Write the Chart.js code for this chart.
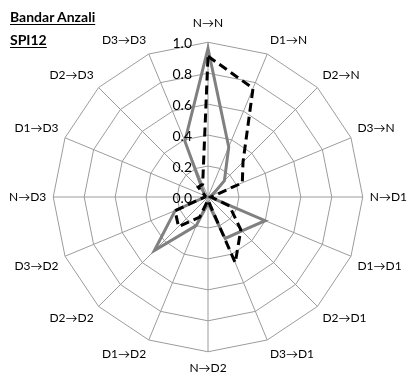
<!DOCTYPE html>
<html>
<head>
<meta charset="utf-8">
<script src="https://cdn.jsdelivr.net/npm/chart.js@4/dist/chart.umd.min.js"></script>
<style>
  html, body { margin: 0; padding: 0; background: #fff; }
  #wrap { position: relative; width: 408px; height: 378px; }
  #c { position: absolute; left: 0; top: 0; }
  .ttl { position: absolute; left: 10px; font: bold 14px Lato, "Liberation Sans", sans-serif;
         color: #000; text-decoration: underline; text-underline-offset: 2px; white-space: nowrap; }
</style>
</head>
<body>
<div id="wrap">
  <canvas id="c" width="408" height="378"></canvas>
  <div class="ttl" style="top:8px">Bandar Anzali</div>
  <div class="ttl" style="top:31px">SPI12</div>
</div>
<script>
// Transition categories, clockwise from the top
const categories = ['N→N','D1→N','D2→N','D3→N','N→D1','D1→D1','D2→D1','D3→D1',
                    'N→D2','D1→D2','D2→D2','D3→D2','N→D3','D1→D3','D2→D3','D3→D3'];
// Dashed black series
const seriesDashed = [0.91, 0.76, 0.32, 0.24, 0.02, 0.15, 0.30, 0.46,
                      0.02, 0.14, 0.27, 0.23, 0.02, 0.02, 0.09, 0.09];
// Solid grey series
const seriesSolid  = [0.96, 0.35, 0.15, 0.03, 0.01, 0.40, 0.31, 0.29,
                      0.04, 0.20, 0.49, 0.23, 0.02, 0.02, 0.04, 0.39];
// Radial tick labels
const tickLabels = ['0.0','0.2','0.4','0.6','0.8','1.0'];
const tickValues = tickLabels.map(Number);

const FONT = 'Lato, "DejaVu Sans", sans-serif';

// Radial tick labels, right-aligned just left of the vertical axis
const tickLabelPlugin = {
  id: 'tickLabelsLeft',
  afterDatasetsDraw(chart) {
    const s = chart.scales.r;
    const ctx = chart.ctx;
    ctx.save();
    ctx.font = '14px ' + FONT;
    ctx.fillStyle = '#000';
    ctx.textAlign = 'right';
    ctx.textBaseline = 'middle';
    tickValues.forEach((v, i) => {
      const d = s.getDistanceFromCenterForValue(v);
      ctx.fillText(tickLabels[i], s.xCenter - 16, s.yCenter - d + 1);
    });
    ctx.restore();
  }
};

new Chart(document.getElementById('c'), {
  type: 'radar',
  data: {
    labels: categories,
    datasets: [
      { data: seriesDashed, borderColor: '#000', borderWidth: 3, borderDash: [9, 5],
        fill: false, pointRadius: 0, tension: 0 },
      { data: seriesSolid, borderColor: '#808080', borderWidth: 3,
        fill: false, pointRadius: 0, tension: 0 }
    ]
  },
  options: {
    responsive: false,
    animation: false,
    devicePixelRatio: 1,
    layout: { padding: { top: 14, bottom: 0, left: 9, right: 0 } },
    plugins: { legend: { display: false }, tooltip: { enabled: false } },
    scales: {
      r: {
        min: 0, max: 1,
        ticks: { stepSize: 0.2, display: false },
        grid: { color: '#9c9c9c', lineWidth: 1 },
        angleLines: { color: '#9c9c9c', lineWidth: 1 },
        pointLabels: {
          font: { size: 12, family: FONT },
          color: '#000',
          padding: (c) => (c.index === 0 ? 12 : c.index === 8 ? 9 : 7)
        }
      }
    }
  },
  plugins: [tickLabelPlugin]
});
</script>
</body>
</html>
